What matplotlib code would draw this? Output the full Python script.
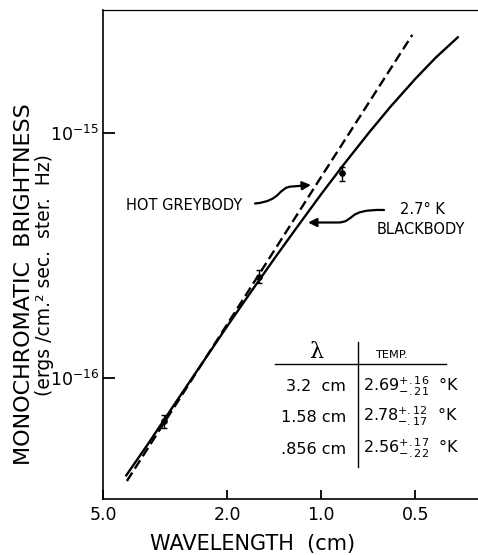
import matplotlib
matplotlib.use("Agg")
import matplotlib.pyplot as plt
from matplotlib.path import Path
from matplotlib.patches import FancyArrowPatch
from matplotlib.ticker import NullLocator

plt.rcParams.update({
    "font.family": "DejaVu Sans",
    "mathtext.fontset": "dejavusans",
})

# -- values ------------------------------------------------------------------
# 2.7 K blackbody (solid)
lam_bb = [4.24, 3.6, 3.0, 2.5, 2.0, 1.7, 1.4, 1.2, 1.0, 0.85, 0.7, 0.6, 0.5, 0.43, 0.363]
bri_bb = [3.95e-17, 5.34e-17, 7.57e-17, 1.07e-16, 1.63e-16, 2.20e-16, 3.13e-16,
          4.11e-16, 5.65e-16, 7.42e-16, 1.015e-15, 1.286e-15, 1.67e-15, 2.04e-15, 2.49e-15]

# hot greybody (dashed)
lam_gb = [4.20, 2.0, 1.0, 0.511]
bri_gb = [3.78e-17, 1.66e-16, 6.65e-16, 2.53e-15]

# measurements with error bars
lam_obs = [3.2, 1.58, 0.856]
bri_obs = [6.65e-17, 2.59e-16, 6.85e-16]
bri_lo = [6.24e-17, 2.43e-16, 6.38e-16]
bri_hi = [7.04e-17, 2.77e-16, 7.31e-16]

# inset table
tab_lam = ["3.2  cm", "1.58 cm", ".856 cm"]
tab_temp = ["2.69", "2.78", "2.56"]
tab_plus = [".16", ".12", ".17"]
tab_minus = [".21", ".17", ".22"]

x_ticks = [5.0, 2.0, 1.0, 0.5]
x_ticklabels = ["5.0", "2.0", "1.0", "0.5"]
y_ticks = [1e-16, 1e-15]
y_ticklabels = [r"$10^{-16}$", r"$10^{-15}$"]

# -- layout helpers (pixel positions in the 478x555 picture) -----------------
W, H = 478, 555
AX_L, AX_R, AX_T, AX_B = 103.3, 478.0, 10.0, 499.3

def fx(px):
    return (px - AX_L) / (AX_R - AX_L)

def fy(py):
    return (AX_B - py) / (AX_B - AX_T)

fig = plt.figure(figsize=(W / 100, H / 100), dpi=100)
ax = fig.add_axes([AX_L / W, 1 - AX_B / H, (AX_R - AX_L) / W, (AX_B - AX_T) / H])

ax.plot(lam_bb, bri_bb, color="k", lw=1.7, solid_capstyle="butt")
ax.plot(lam_gb, bri_gb, color="k", lw=1.7, dashes=(4.2, 2.0))

yerr = [[b - lo for b, lo in zip(bri_obs, bri_lo)],
        [hi - b for b, hi in zip(bri_obs, bri_hi)]]
ax.errorbar(lam_obs, bri_obs, yerr=yerr, fmt="o", ms=3.8, color="k",
            elinewidth=1.0, capsize=2.5, capthick=1.0)

ax.set_xscale("log")
ax.set_yscale("log")
ax.set_xlim(5.0, 0.3147)
ax.set_ylim(3.18e-17, 3.196e-15)
ax.set_xticks(x_ticks, x_ticklabels)
ax.set_yticks(y_ticks, y_ticklabels)
ax.xaxis.set_minor_locator(NullLocator())
ax.yaxis.set_minor_locator(NullLocator())
ax.tick_params(axis="x", direction="in", length=6.7, width=1.3, pad=5, labelsize=12.5)
ax.tick_params(axis="y", direction="in", length=8.3, width=1.3, pad=3, labelsize=12.5)
for side in ("left", "bottom", "top"):
    ax.spines[side].set_linewidth(1.2)
ax.spines["top"].set_linewidth(0.9)
ax.spines["right"].set_visible(False)

# axis titles
fig.text(253 / W, 1 - 544 / H, "WAVELENGTH  (cm)", ha="center", va="center", fontsize=15)
fig.text(24 / W, 1 - 284 / H, "MONOCHROMATIC  BRIGHTNESS", rotation=90,
         ha="center", va="center", fontsize=16)
fig.text(45 / W, 1 - 275 / H, "(ergs /cm.² sec.  ster.  Hz)", rotation=90,
         ha="center", va="center", fontsize=13.5)

# curve labels and arrows
ax.text(fx(183.7), fy(206), "HOT GREYBODY", transform=ax.transAxes,
        ha="center", va="center", fontsize=10.5)
ax.text(fx(422.5), fy(210), "2.7° K", transform=ax.transAxes,
        ha="center", va="center", fontsize=10.5)
ax.text(fx(421), fy(229.5), "BLACKBODY", transform=ax.transAxes,
        ha="center", va="center", fontsize=10.5)

grey_path = Path(
    [(fx(255), fy(203.5)), (fx(282), fy(201)), (fx(278), fy(187)), (fx(292), fy(186.5)),
     (fx(311), fy(185))],
    [Path.MOVETO, Path.CURVE4, Path.CURVE4, Path.CURVE4, Path.LINETO])
ax.add_patch(FancyArrowPatch(path=grey_path, transform=ax.transAxes,
                             arrowstyle="-|>,head_length=5,head_width=2.5",
                             color="k", lw=1.6))

bb_path = Path(
    [(fx(384), fy(210)), (fx(345), fy(209)), (fx(356), fy(222)), (fx(338), fy(222.5)),
     (fx(308), fy(222.5))],
    [Path.MOVETO, Path.CURVE4, Path.CURVE4, Path.CURVE4, Path.LINETO])
ax.add_patch(FancyArrowPatch(path=bb_path, transform=ax.transAxes,
                             arrowstyle="-|>,head_length=5,head_width=2.5",
                             color="k", lw=1.6))

# inset table
ax.plot([fx(275), fx(446)], [fy(363.5), fy(363.5)], transform=ax.transAxes,
        color="k", lw=1.0)
ax.plot([fx(358.3), fx(358.3)], [fy(341.7), fy(466.7)], transform=ax.transAxes,
        color="k", lw=1.0)
ax.text(fx(316), fy(357.5), "λ", transform=ax.transAxes, ha="center", va="baseline",
        fontsize=16, family="DejaVu Serif")
ax.text(fx(375), fy(357.5), "TEMP.", transform=ax.transAxes, ha="left", va="baseline",
        fontsize=8.2)
row_base = [391, 422, 454]
for lam_s, t, p, m, yb in zip(tab_lam, tab_temp, tab_plus, tab_minus, row_base):
    ax.text(fx(346), fy(yb), lam_s, transform=ax.transAxes, ha="right", va="baseline",
            fontsize=11.5)
    ax.text(fx(363), fy(yb), rf"${t}^{{+{p}}}_{{-{m}}}$  °K", transform=ax.transAxes,
            ha="left", va="baseline", fontsize=11.5)

fig.savefig("out.png", dpi=100)
